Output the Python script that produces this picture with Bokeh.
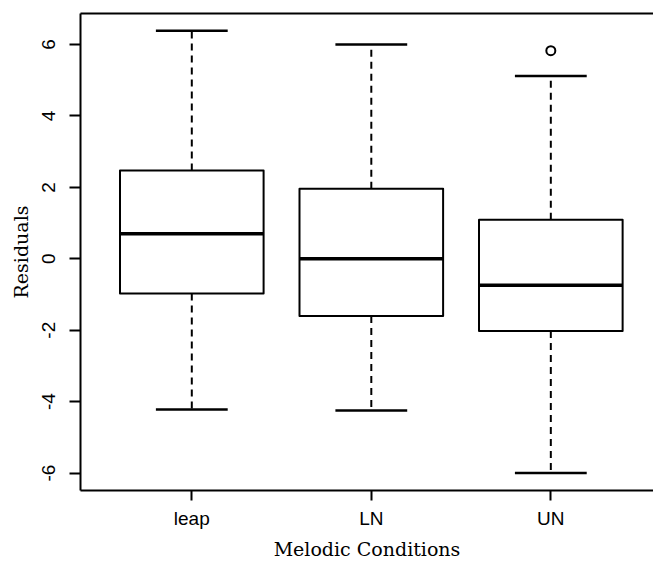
from bokeh.plotting import figure
from bokeh.models import Range1d, FixedTicker, LinearAxis, ColumnDataSource
from bokeh.embed import file_html
from bokeh.resources import INLINE

# ---- data ----
categories = ["leap", "LN", "UN"]
lower_whisker = [-4.22, -4.25, -6.0]
q1 = [-0.97, -1.60, -2.02]
median = [0.70, 0.0, -0.74]
q3 = [2.47, 1.96, 1.09]
upper_whisker = [6.39, 6.0, 5.12]
outlier_category = ["UN"]
outlier_value = [5.83]
y_ticks = [-6, -4, -2, 0, 2, 4, 6]
y_tick_labels = ["-6", "-4", "-2", "0", "2", "4", "6"]

# ---- layout / style ----
box_w = 0.8
cap_w = 0.4
pos = [i + 1 for i in range(len(categories))]

src = ColumnDataSource(dict(
    x=pos,
    left=[p_ - box_w / 2 for p_ in pos],
    right=[p_ + box_w / 2 for p_ in pos],
    cl=[p_ - cap_w / 2 for p_ in pos],
    cr=[p_ + cap_w / 2 for p_ in pos],
    lw=lower_whisker, q1=q1, med=median, q3=q3, uw=upper_whisker,
))
out_src = ColumnDataSource(dict(
    x=[pos[categories.index(c)] for c in outlier_category],
    y=outlier_value,
))

p = figure(width=653, height=562,
           x_range=Range1d(0.38, 3.572), y_range=Range1d(-6.49, 6.87),
           output_backend="svg", toolbar_location=None,
           min_border_left=80, min_border_bottom=71, min_border_top=13,
           min_border_right=0, outline_line_color=None,
           background_fill_color="white", border_fill_color="white")
p.xaxis.visible = False
p.yaxis.visible = False
p.xgrid.visible = False
p.ygrid.visible = False

serif = "DejaVu Serif"
sans = "Liberation Sans"

# left axis
ya = LinearAxis(ticker=FixedTicker(ticks=y_ticks), axis_label="Residuals")
ya.major_label_overrides = {t: s for t, s in zip(y_ticks, y_tick_labels)}
ya.axis_line_width = 2
ya.major_tick_line_width = 2
ya.major_tick_out = 11
ya.major_tick_in = 0
ya.minor_tick_out = 0
ya.minor_tick_in = 0
ya.major_label_orientation = "vertical"
ya.major_label_text_font = sans
ya.major_label_text_font_size = "19px"
ya.major_label_text_color = "black"
ya.major_label_standoff = 14
ya.axis_label_text_font = serif
ya.axis_label_text_font_style = "normal"
ya.axis_label_text_font_size = "19px"
ya.axis_label_text_color = "black"
ya.axis_label_standoff = 8
p.add_layout(ya, "left")

# bottom axis
xa = LinearAxis(ticker=FixedTicker(ticks=pos), axis_label="Melodic Conditions")
xa.major_label_overrides = {p_: c for p_, c in zip(pos, categories)}
xa.axis_line_width = 2
xa.major_tick_line_width = 2
xa.major_tick_out = 10
xa.major_tick_in = 0
xa.minor_tick_out = 0
xa.minor_tick_in = 0
xa.major_label_text_font = sans
xa.major_label_text_font_size = "19px"
xa.major_label_text_color = "black"
xa.major_label_standoff = 7
xa.axis_label_text_font = serif
xa.axis_label_text_font_style = "normal"
xa.axis_label_text_font_size = "19px"
xa.axis_label_text_color = "black"
xa.axis_label_standoff = 6
p.add_layout(xa, "below")

# top frame line
ta = LinearAxis(ticker=FixedTicker(ticks=[]))
ta.axis_line_width = 2
ta.major_tick_out = 0
ta.major_tick_in = 0
ta.minor_tick_out = 0
ta.minor_tick_in = 0
ta.major_label_text_font_size = "0px"
ta.major_label_standoff = 0
p.add_layout(ta, "above")

# whiskers
p.segment(x0="x", y0="q3", x1="x", y1="uw", source=src, line_color="black",
          line_width=2, line_dash="7 5")
p.segment(x0="x", y0="q1", x1="x", y1="lw", source=src, line_color="black",
          line_width=2, line_dash="7 5")
# caps
p.segment(x0="cl", y0="uw", x1="cr", y1="uw", source=src, line_color="black", line_width=2.5)
p.segment(x0="cl", y0="lw", x1="cr", y1="lw", source=src, line_color="black", line_width=2.5)
# boxes
p.quad(left="left", right="right", bottom="q1", top="q3", source=src,
       fill_color="white", line_color="black", line_width=2, line_join="round")
# medians
p.segment(x0="left", y0="med", x1="right", y1="med", source=src,
          line_color="black", line_width=3.5)
# outliers
p.scatter(x="x", y="y", source=out_src, marker="circle", size=9,
          fill_color="white", line_color="black", line_width=2)

open("out.html", "w").write(file_html(p, INLINE))
